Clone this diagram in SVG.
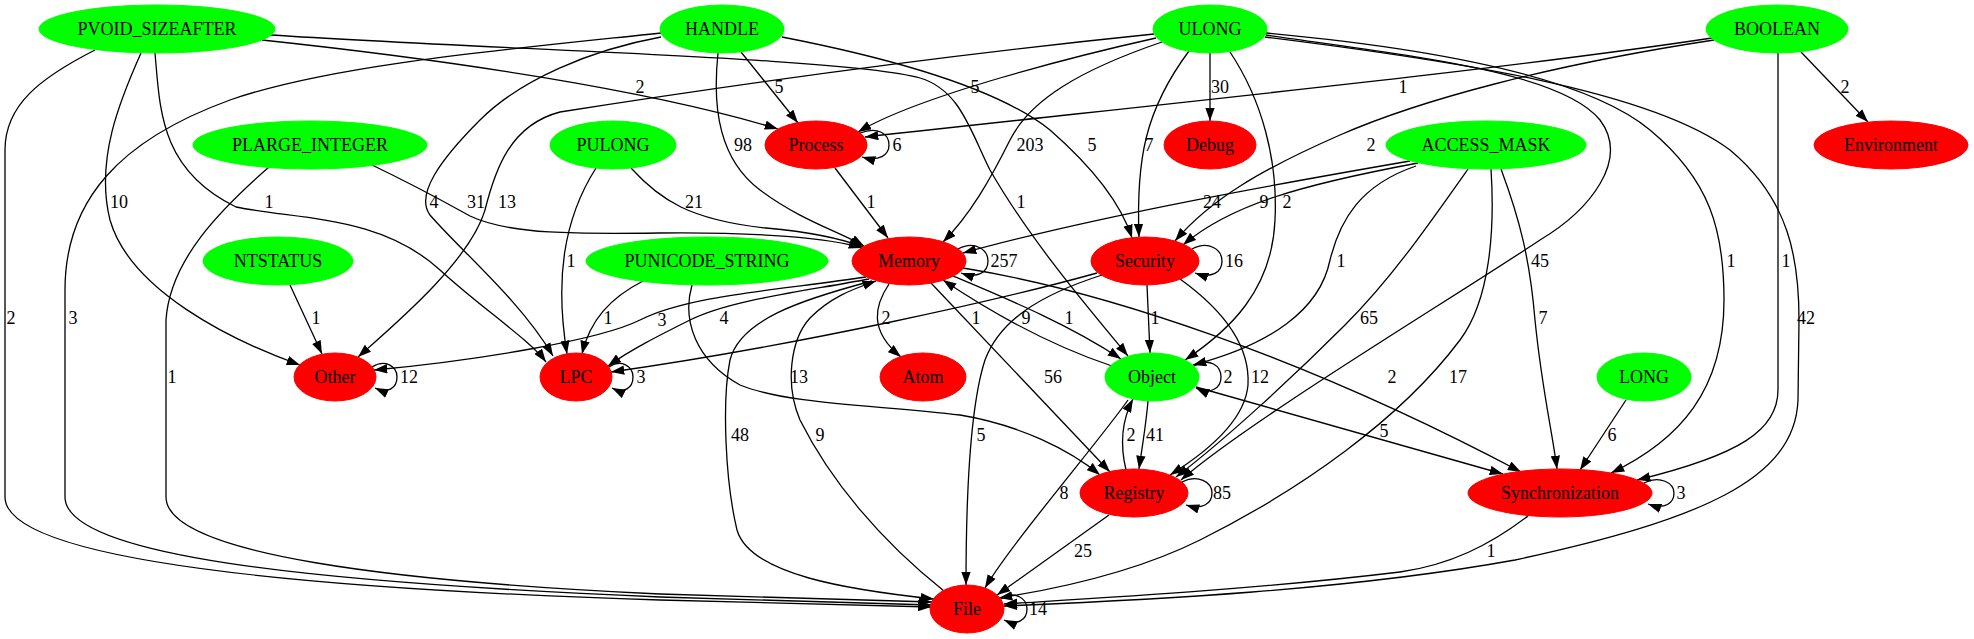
<svg xmlns="http://www.w3.org/2000/svg" width="1974" height="639" viewBox="0 0 1974 639">
<defs>
<marker id="ah" viewBox="0 0 13.3 9.4" refX="13.3" refY="4.7" markerWidth="13.3" markerHeight="9.4" markerUnits="userSpaceOnUse" orient="auto"><path d="M0,0 L13.3,4.7 L0,9.4 z" fill="#000"/></marker>
</defs>
<style>
text{font-family:"Liberation Serif","Times New Roman",serif;font-size:18px;text-anchor:middle;fill:#000}
.edge path{fill:none;stroke:#000;stroke-width:1.3;marker-end:url(#ah)}
.g ellipse{fill:#00ff00;stroke:#00ff00}
.r ellipse{fill:#ff0000;stroke:#ff0000}
</style>
<rect width="1974" height="639" fill="#fff"/>
<g id="edges">
<g class="edge" id="e_PVOID_File"><path d="M95,50 C40,78 5,105 5,150 L5,497 C5,555 250,587 660,600 L931,607"/><text x="11" y="324">2</text></g>
<g class="edge" id="e_HANDLE_File"><path d="M661,33 C500,50 330,65 230,100 C120,140 65,200 65,290 L65,497 C65,555 300,582 660,597 L931,605"/><text x="73" y="324">3</text></g>
<g class="edge" id="e_PLARGE_File"><path d="M269,167 C220,210 170,260 166,320 L166,497 C166,555 400,582 660,594 L932,602"/><text x="172" y="383">1</text></g>
<g class="edge" id="e_PVOID_Other"><path d="M141,53 C120,100 95,160 110,220 C130,290 230,340 300,365"/><text x="119" y="208">10</text></g>
<g class="edge" id="e_PVOID_LPC"><path d="M155,53 C160,110 160,170 236,207 C300,220 380,215 440,270 C480,307 530,340 546,362"/><text x="269" y="208">1</text></g>
<g class="edge" id="e_PVOID_Process"><path d="M262,40 C450,60 650,90 778,129"/><text x="640" y="93">2</text></g>
<g class="edge" id="e_PVOID_Object"><path d="M271,35 C500,50 850,58 920,78 C960,90 970,130 990,170 C1030,240 1090,310 1128,356"/><text x="1021" y="208">1</text></g>
<g class="edge" id="e_HANDLE_Process"><path d="M741,52 L798,123"/><text x="779" y="93">5</text></g>
<g class="edge" id="e_HANDLE_Memory"><path d="M718,53 C712,110 720,160 760,190 C800,220 840,232 864,246"/><text x="743" y="151">98</text></g>
<g class="edge" id="e_HANDLE_Security"><path d="M782,37 C900,60 1000,90 1050,130 C1090,165 1120,200 1132,238"/><text x="1092" y="151">5</text></g>
<g class="edge" id="e_HANDLE_LPC"><path d="M661,37 C590,50 520,80 480,120 C440,160 415,195 430,215 C460,250 520,300 553,356"/><text x="434" y="208">4</text></g>
<g class="edge" id="e_ULONG_Debug"><path d="M1210,53 L1210,121"/><text x="1220" y="93">30</text></g>
<g class="edge" id="e_ULONG_Process"><path d="M1156,38 C1080,55 920,95 858,132"/><text x="975" y="93">5</text></g>
<g class="edge" id="e_ULONG_Memory"><path d="M1162,42 C1080,70 1030,100 1010,140 C990,180 970,215 943,242"/><text x="1030" y="151">203</text></g>
<g class="edge" id="e_ULONG_Security"><path d="M1189,51 C1145,110 1136,160 1139,237"/><text x="1149" y="151">7</text></g>
<g class="edge" id="e_ULONG_Other"><path d="M1154,34 C900,60 700,90 560,112 C510,125 495,170 485,210 C470,260 400,320 358,357"/><text x="507" y="208">13</text></g>
<g class="edge" id="e_ULONG_Object"><path d="M1230,52 C1262,100 1278,160 1275,220 C1272,290 1230,330 1185,360"/><text x="1287" y="208">2</text></g>
<g class="edge" id="e_ULONG_Registry"><path d="M1266,35 C1400,55 1560,70 1600,120 C1630,160 1590,210 1540,240 C1450,300 1250,420 1181,480"/><text x="1540" y="267">45</text></g>
<g class="edge" id="e_ULONG_Synchronization"><path d="M1266,33 C1450,50 1590,80 1650,130 C1710,180 1724,230 1724,300 C1724,390 1680,440 1611,473"/><text x="1731" y="267">1</text></g>
<g class="edge" id="e_ULONG_File"><path d="M1265,37 C1450,60 1650,90 1730,150 C1790,200 1799,260 1799,320 L1798,400 C1795,480 1700,520 1515,560 C1350,590 1150,600 1004,606"/><text x="1806" y="324">42</text></g>
<g class="edge" id="e_BOOLEAN_Process"><path d="M1712,38 C1500,70 1200,100 865,137"/><text x="1403" y="93">1</text></g>
<g class="edge" id="e_BOOLEAN_Environment"><path d="M1801,52 L1868,122"/><text x="1845" y="93">2</text></g>
<g class="edge" id="e_BOOLEAN_Security"><path d="M1714,40 C1550,65 1420,100 1340,135 C1260,170 1210,200 1175,241"/><text x="1371" y="151">2</text></g>
<g class="edge" id="e_BOOLEAN_Synchronization"><path d="M1778,53 L1778,390 C1778,430 1740,455 1637,480"/><text x="1786" y="267">1</text></g>
<g class="edge" id="e_PLARGE_Memory"><path d="M372,165 C420,188 450,205 470,216 C510,235 580,234 660,233 C760,232 830,238 862,248"/><text x="476" y="208">31</text></g>
<g class="edge" id="e_PULONG_Memory"><path d="M631,168 C660,200 690,220 766,228 C810,232 840,238 863,247"/><text x="694" y="208">21</text></g>
<g class="edge" id="e_PULONG_LPC"><path d="M596,168 C563,220 555,280 567,354"/><text x="571" y="267">1</text></g>
<g class="edge" id="e_NTSTATUS_Other"><path d="M290,285 L322,354"/><text x="316" y="324">1</text></g>
<g class="edge" id="e_PUNICODE_LPC"><path d="M643,281 C610,298 590,320 582,354"/><text x="608" y="324">1</text></g>
<g class="edge" id="e_PUNICODE_Registry"><path d="M692,285 C682,320 695,360 740,385 C790,405 880,405 960,415 C1020,425 1070,450 1100,475"/><text x="799" y="383">13</text></g>
<g class="edge" id="e_Process_Process"><path d="M860,133 C878,126 889,134 889,145 C889,155 879,162 862,157"/><text x="897" y="151">6</text></g>
<g class="edge" id="e_Process_Memory"><path d="M835,168 L888,238"/><text x="871" y="208">1</text></g>
<g class="edge" id="e_Memory_Memory"><path d="M958,249 C975,240 988,250 988,261 C988,272 978,279 961,273"/><text x="1004" y="267">257</text></g>
<g class="edge" id="e_Memory_Other"><path d="M866,277 C780,290 690,295 640,320 C600,340 480,360 374,370"/><text x="662" y="326">3</text></g>
<g class="edge" id="e_Memory_LPC"><path d="M869,279 C800,292 730,300 690,320 C660,335 630,350 608,366"/><text x="724" y="324">4</text></g>
<g class="edge" id="e_Memory_Atom"><path d="M889,284 C875,305 868,330 901,357"/><text x="886" y="324">2</text></g>
<g class="edge" id="e_Memory_Object"><path d="M953,276 C1010,300 1070,325 1121,359"/><text x="1069" y="324">1</text></g>
<g class="edge" id="e_Object_Memory"><path d="M1112,366 C1070,352 1010,325 943,280"/><text x="1026" y="324">9</text></g>
<g class="edge" id="e_Memory_Registry"><path d="M931,283 L1110,472"/><text x="1053" y="383">56</text></g>
<g class="edge" id="e_Memory_Synchronization"><path d="M963,268 C1100,290 1300,355 1521,472"/><text x="1392" y="383">2</text></g>
<g class="edge" id="e_Memory_File"><path d="M872,281 C800,300 740,320 730,360 C722,400 725,480 737,530 C750,575 850,590 934,599"/><text x="740" y="441">48</text></g>
<g class="edge" id="e_File_Memory"><path d="M944,591 C880,540 830,480 800,420 C785,385 790,340 810,318 C830,298 850,290 876,281"/><text x="820" y="441">9</text></g>
<g class="edge" id="e_Security_Security"><path d="M1192,249 C1209,240 1222,250 1222,261 C1222,272 1212,279 1195,273"/><text x="1234" y="267">16</text></g>
<g class="edge" id="e_Security_Object"><path d="M1147,285 L1150,353"/><text x="1155" y="324">1</text></g>
<g class="edge" id="e_Security_Registry"><path d="M1180,279 C1230,315 1250,350 1248,385 C1245,420 1210,450 1170,475"/><text x="1260" y="383">12</text></g>
<g class="edge" id="e_Security_File"><path d="M1102,275 C1040,295 1000,320 985,360 C972,400 966,480 966,585"/><text x="981" y="441">5</text></g>
<g class="edge" id="e_Security_LPC"><path d="M1097,273 C1000,300 800,345 611,372"/><text x="976" y="324">1</text></g>
<g class="edge" id="e_ACCESS_Memory"><path d="M1410,161 C1300,180 1100,215 963,253"/><text x="1212" y="208">24</text></g>
<g class="edge" id="e_ACCESS_Security"><path d="M1418,163 C1300,185 1230,205 1183,245"/><text x="1264" y="208">9</text></g>
<g class="edge" id="e_ACCESS_Object"><path d="M1416,166 C1360,185 1340,220 1330,260 C1320,310 1270,345 1193,365"/><text x="1341" y="267">1</text></g>
<g class="edge" id="e_ACCESS_Registry"><path d="M1468,169 C1425,230 1390,280 1345,325 C1295,375 1225,440 1176,477"/><text x="1369" y="324">65</text></g>
<g class="edge" id="e_ACCESS_File"><path d="M1491,169 C1495,230 1490,300 1460,340 C1400,420 1300,490 1200,540 C1130,575 1050,590 999,598"/><text x="1458" y="383">17</text></g>
<g class="edge" id="e_ACCESS_Synchronization"><path d="M1501,169 C1520,220 1530,260 1535,320 C1542,390 1552,430 1557,469"/><text x="1543" y="324">7</text></g>
<g class="edge" id="e_Object_Object"><path d="M1194,366 C1210,357 1221,366 1221,377 C1221,388 1211,395 1196,388"/><text x="1228" y="383">2</text></g>
<g class="edge" id="e_Object_Registry"><path d="M1148,401 C1146,425 1142,448 1139,469"/><text x="1155" y="441">41</text></g>
<g class="edge" id="e_Registry_Object"><path d="M1126,470 C1120,445 1122,420 1133,399"/><text x="1131" y="441">2</text></g>
<g class="edge" id="e_Object_File"><path d="M1128,400 C1100,440 1010,545 985,588"/><text x="1064" y="499">8</text></g>
<g class="edge" id="e_Object_Synchronization"><path d="M1196,387 L1503,474"/><text x="1384" y="437">5</text></g>
<g class="edge" id="e_Registry_Registry"><path d="M1182,482 C1198,474 1212,482 1212,493 C1212,504 1202,510 1186,505"/><text x="1222" y="499">85</text></g>
<g class="edge" id="e_Registry_File"><path d="M1109,515 L997,595"/><text x="1083" y="557">25</text></g>
<g class="edge" id="e_LONG_Synchronization"><path d="M1626,400 L1580,470"/><text x="1612" y="441">6</text></g>
<g class="edge" id="e_Synchronization_Synchronization"><path d="M1644,483 C1660,475 1674,483 1674,493 C1674,503 1665,510 1648,504"/><text x="1681" y="499">3</text></g>
<g class="edge" id="e_Synchronization_File"><path d="M1528,516 C1490,545 1450,565 1400,572 C1250,590 1100,598 1004,604"/><text x="1491" y="557">1</text></g>
<g class="edge" id="e_Other_Other"><path d="M372,367 C385,359 397,366 397,377 C397,388 388,394 375,388"/><text x="409" y="383">12</text></g>
<g class="edge" id="e_LPC_LPC"><path d="M609,367 C621,359 633,366 633,377 C633,388 624,394 612,388"/><text x="641" y="383">3</text></g>
<g class="edge" id="e_File_File"><path d="M1001,599 C1014,590 1027,598 1027,609 C1027,620 1017,626 1004,620"/><text x="1038" y="615">14</text></g>
</g>
<g id="nodes">
<g class="g" id="n_PVOID_SIZEAFTER"><ellipse cx="157" cy="29" rx="118" ry="24"/><text x="157" y="35">PVOID_SIZEAFTER</text></g>
<g class="g" id="n_HANDLE"><ellipse cx="722" cy="29" rx="62" ry="24"/><text x="722" y="35">HANDLE</text></g>
<g class="g" id="n_ULONG"><ellipse cx="1210" cy="29" rx="57" ry="24"/><text x="1210" y="35">ULONG</text></g>
<g class="g" id="n_BOOLEAN"><ellipse cx="1777" cy="29" rx="71" ry="24"/><text x="1777" y="35">BOOLEAN</text></g>
<g class="g" id="n_PLARGE_INTEGER"><ellipse cx="310" cy="145" rx="117" ry="24"/><text x="310" y="151">PLARGE_INTEGER</text></g>
<g class="g" id="n_PULONG"><ellipse cx="613" cy="145" rx="63" ry="24"/><text x="613" y="151">PULONG</text></g>
<g class="r" id="n_Process"><ellipse cx="816" cy="145" rx="51" ry="24"/><text x="816" y="151">Process</text></g>
<g class="r" id="n_Debug"><ellipse cx="1210" cy="145" rx="46" ry="24"/><text x="1210" y="151">Debug</text></g>
<g class="g" id="n_ACCESS_MASK"><ellipse cx="1486" cy="145" rx="100" ry="24"/><text x="1486" y="151">ACCESS_MASK</text></g>
<g class="r" id="n_Environment"><ellipse cx="1891" cy="145" rx="77" ry="24"/><text x="1891" y="151">Environment</text></g>
<g class="g" id="n_NTSTATUS"><ellipse cx="278" cy="261" rx="75" ry="24"/><text x="278" y="267">NTSTATUS</text></g>
<g class="g" id="n_PUNICODE_STRING"><ellipse cx="707" cy="261" rx="121" ry="24"/><text x="707" y="267">PUNICODE_STRING</text></g>
<g class="r" id="n_Memory"><ellipse cx="909" cy="261" rx="57" ry="24"/><text x="909" y="267">Memory</text></g>
<g class="r" id="n_Security"><ellipse cx="1145" cy="261" rx="54" ry="24"/><text x="1145" y="267">Security</text></g>
<g class="r" id="n_Other"><ellipse cx="335" cy="377" rx="41" ry="24"/><text x="335" y="383">Other</text></g>
<g class="r" id="n_LPC"><ellipse cx="576" cy="377" rx="36" ry="24"/><text x="576" y="383">LPC</text></g>
<g class="r" id="n_Atom"><ellipse cx="923" cy="377" rx="43" ry="24"/><text x="923" y="383">Atom</text></g>
<g class="g" id="n_Object"><ellipse cx="1152" cy="377" rx="47" ry="24"/><text x="1152" y="383">Object</text></g>
<g class="g" id="n_LONG"><ellipse cx="1644" cy="377" rx="47" ry="24"/><text x="1644" y="383">LONG</text></g>
<g class="r" id="n_Registry"><ellipse cx="1134" cy="493" rx="54" ry="24"/><text x="1134" y="499">Registry</text></g>
<g class="r" id="n_Synchronization"><ellipse cx="1560" cy="493" rx="92" ry="24"/><text x="1560" y="499">Synchronization</text></g>
<g class="r" id="n_File"><ellipse cx="967" cy="609" rx="37" ry="24"/><text x="967" y="615">File</text></g>
</g>
</svg>
